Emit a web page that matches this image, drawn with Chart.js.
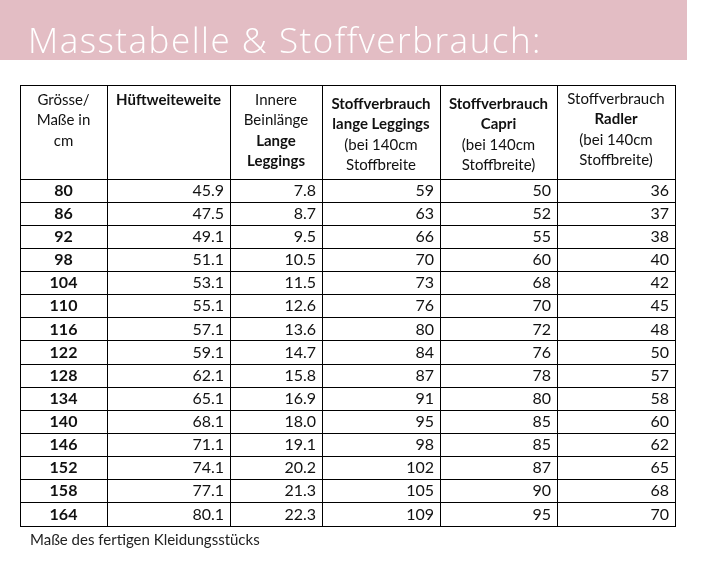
<!DOCTYPE html>
<html><head><meta charset="utf-8">
<script src="https://cdn.jsdelivr.net/npm/chart.js@4/dist/chart.umd.min.js"></script>
<style>body{margin:0;background:#fff}</style>
</head><body>
<canvas id="c" width="719" height="562"></canvas>
<script>
const sizes = [80, 86, 92, 98, 104, 110, 116, 122, 128, 134, 140, 146, 152, 158, 164];
const hip = [45.9, 47.5, 49.1, 51.1, 53.1, 55.1, 57.1, 59.1, 62.1, 65.1, 68.1, 71.1, 74.1, 77.1, 80.1];
const inseam = [7.8, 8.7, 9.5, 10.5, 11.5, 12.6, 13.6, 14.7, 15.8, 16.9, 18.0, 19.1, 20.2, 21.3, 22.3];
const fabricLong = [59, 63, 66, 70, 73, 76, 80, 84, 87, 91, 95, 98, 102, 105, 109];
const fabricCapri = [50, 52, 55, 60, 68, 70, 72, 76, 78, 80, 85, 85, 87, 90, 95];
const fabricRadler = [36, 37, 38, 40, 42, 45, 48, 50, 57, 58, 60, 62, 65, 68, 70];
const headers = [
  [["Grösse/", 0], ["Maße in", 0], ["cm", 0]],
  [["Hüftweiteweite", 1]],
  [["Innere", 0], ["Beinlänge", 0], ["Lange", 1], ["Leggings", 1]],
  [["Stoffverbrauch", 1], ["lange Leggings", 1], ["(bei 140cm", 0], ["Stoffbreite", 0]],
  [["Stoffverbrauch", 1], ["Capri", 1], ["(bei 140cm", 0], ["Stoffbreite)", 0]],
  [["Stoffverbrauch", 0], ["Radler", 1], ["(bei 140cm", 0], ["Stoffbreite)", 0]]
];
const headerTop = [5, 5, 5, 9, 9, 4];
const title = "Masstabelle & Stoffverbrauch:";
const footer = "Maße des fertigen Kleidungsstücks";

// layout: column edges in table pixels, header height in row units
const colEdges = [0, 87, 210, 302, 420, 537, 655];
const headRows = 4.07;
const rowEdges = [0].concat(sizes.map((s, i) => headRows + i), [headRows + sizes.length]);
const colMid = i => (colEdges[i] + colEdges[i + 1]) / 2;
const rowMid = i => headRows + i + 0.5;

const series = [sizes, hip, inseam, fabricLong, fabricCapri, fabricRadler];
const datasets = series.map((vals, c) => ({
  data: vals.map((v, r) => ({ x: c === 0 ? colMid(0) : colEdges[c + 1] - 6, y: rowMid(r), v: v })),
  pointRadius: 0, showLine: false
}));
const FONT = "Lato, 'Open Sans', sans-serif";

const tablePlugin = {
  id: 'table',
  beforeDraw(chart) {
    const ctx = chart.ctx;
    ctx.save();
    ctx.fillStyle = '#e3bdc4';
    ctx.fillRect(0, 0, 687, 60);
    ctx.fillStyle = '#fff';
    ctx.font = "300 35px 'Open Sans', sans-serif";
    ctx.letterSpacing = '1.5px';
    ctx.textBaseline = 'alphabetic';
    ctx.fillText(title, 28, 53);
    ctx.letterSpacing = '0px';
    ctx.fillStyle = '#222';
    ctx.font = "15px " + FONT;
    ctx.fillText(footer, 30, 545);
    ctx.restore();
  },
  afterDraw(chart) {
    const ctx = chart.ctx, xs = chart.scales.x, ys = chart.scales.y;
    ctx.save();
    ctx.fillStyle = '#111';
    ctx.textBaseline = 'middle';
    headers.forEach((lines, c) => {
      const cx = xs.getPixelForValue(colMid(c));
      lines.forEach((ln, k) => {
        ctx.font = (ln[1] ? "bold " : "") + "15px " + FONT;
        ctx.textAlign = 'center';
        ctx.fillText(ln[0], cx, ys.top + headerTop[c] + 10 + k * 20.5);
      });
    });
    chart.data.datasets.forEach((ds, c) => {
      const meta = chart.getDatasetMeta(c);
      meta.data.forEach((p, r) => {
        const v = ds.data[r].v;
        ctx.font = (c === 0 ? "bold " : "") + "16px " + FONT;
        ctx.textAlign = c === 0 ? 'center' : 'right';
        ctx.fillText(c === 1 || c === 2 ? v.toFixed(1) : String(v), p.x, p.y);
      });
    });
    ctx.restore();
  }
};

const gridOpts = { color: '#000', lineWidth: 1, drawTicks: false };
new Chart(document.getElementById('c'), {
  type: 'scatter',
  data: { datasets },
  options: {
    responsive: false, animation: false,
    layout: { padding: { left: 20, top: 85, right: 44, bottom: 36 } },
    plugins: { legend: { display: false }, tooltip: { enabled: false } },
    scales: {
      x: { type: 'linear', min: 0, max: 655, grid: gridOpts, border: { display: true, color: '#000' },
           ticks: { display: false }, afterBuildTicks: s => { s.ticks = colEdges.map(v => ({ value: v })); } },
      y: { type: 'linear', min: 0, max: rowEdges[rowEdges.length - 1], reverse: true, grid: gridOpts,
           border: { display: true, color: '#000' },
           ticks: { display: false }, afterBuildTicks: s => { s.ticks = rowEdges.map(v => ({ value: v })); } }
    }
  },
  plugins: [tablePlugin]
});
</script>
</body></html>
